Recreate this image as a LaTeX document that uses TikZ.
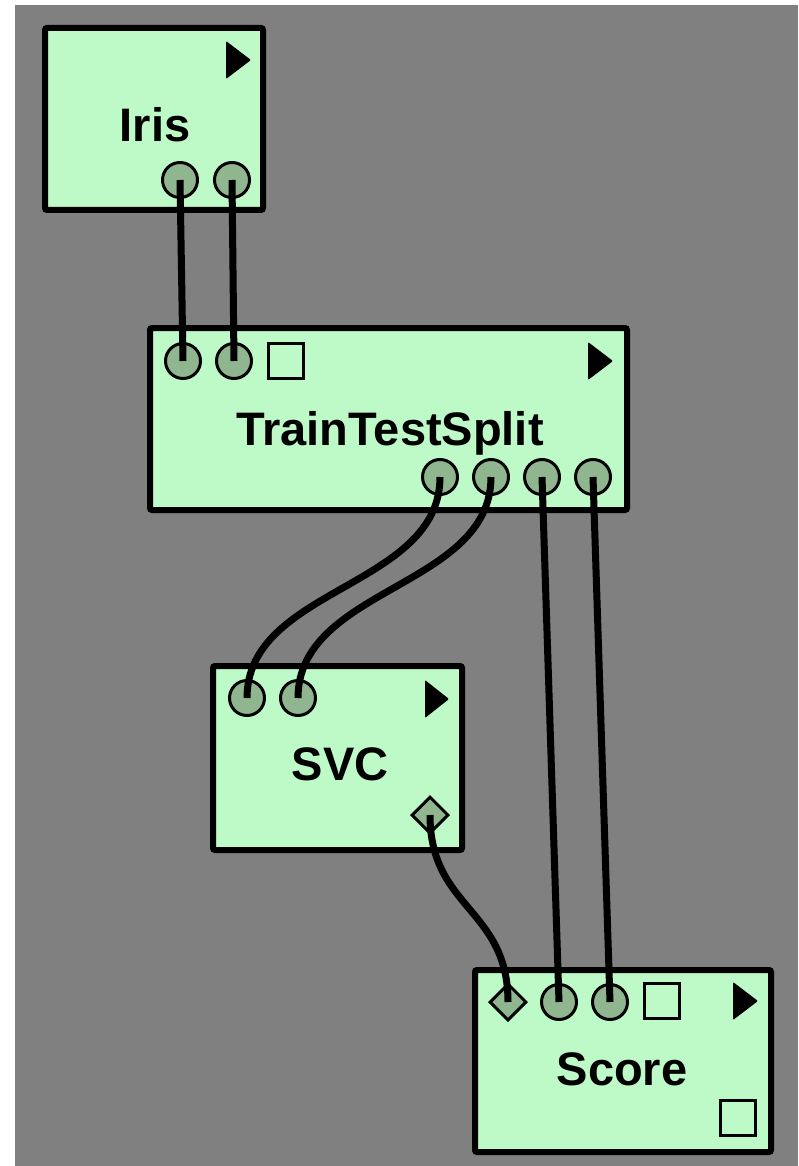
\documentclass[tikz,border=0pt]{standalone}
\usepackage{fontspec}
\setmainfont{Liberation Sans}
\usetikzlibrary{shapes.geometric}
\definecolor{canvasgray}{RGB}{128,128,128}
\definecolor{widgetgreen}{RGB}{190,250,200}
\definecolor{portgreen}{RGB}{143,182,143}
\begin{document}
\begin{tikzpicture}[x=1pt,y=-1pt,
  widget/.style={draw,line width=6pt,fill=widgetgreen,rounded corners=2pt,inner sep=0pt},
  title/.style={anchor=base,font=\bfseries\fontsize{47}{50}\selectfont,inner sep=0pt},
  port/.style={circle,draw,line width=3pt,fill=portgreen,minimum size=35pt,inner sep=0pt},
  dport/.style={diamond,draw,line width=3pt,fill=portgreen,minimum size=37pt,inner sep=0pt},
  slot/.style={draw,line width=3pt,fill=widgetgreen,minimum size=35pt,inner sep=0pt},
  link/.style={line width=7pt}]
\useasboundingbox (0,0) rectangle (798,1166);
\fill[white] (0,0) rectangle (798,1166);
\fill[canvasgray] (15,5) rectangle (798,1166);
% widgets
\node[widget,minimum width=218pt,minimum height=182pt] (iris) at (154,119) {};
\node[widget,minimum width=477pt,minimum height=182pt] (tts) at (388.5,419) {};
\node[widget,minimum width=249pt,minimum height=184pt] (svc) at (337.5,758) {};
\node[widget,minimum width=296pt,minimum height=182pt] (score) at (623,1061) {};
\node[title] (irislbl) at (155,142) {Iris};
\node[title] (ttslbl) at (390,445) {TrainTestSplit};
\node[title] (svclbl) at (340,780) {SVC};
\node[title] (scorelbl) at (622,1085) {Score};
% run buttons
\fill[rounded corners=1pt] (226,41) -- (251,60) -- (226,79) -- cycle;
\fill[rounded corners=1pt] (588,342) -- (613,361) -- (588,380) -- cycle;
\fill[rounded corners=1pt] (425,680) -- (449,699) -- (425,718) -- cycle;
\fill[rounded corners=1pt] (733,982) -- (758,1001) -- (733,1020) -- cycle;
% ports
\node[port] (irisout1) at (180,180) {};
\node[port] (irisout2) at (232,180) {};
\node[port] (ttsin1) at (183,361) {};
\node[port] (ttsin2) at (234,361) {};
\node[slot] (ttsopt) at (286,361) {};
\node[port] (ttsout1) at (440,477) {};
\node[port] (ttsout2) at (491,477) {};
\node[port] (ttsout3) at (542,477) {};
\node[port] (ttsout4) at (593,477) {};
\node[port] (svcin1) at (247,698) {};
\node[port] (svcin2) at (298,698) {};
\node[dport] (svcout) at (430,815) {};
\node[dport] (scorein1) at (508,1002) {};
\node[port] (scorein2) at (559,1002) {};
\node[port] (scorein3) at (610,1002) {};
\node[slot] (scoreopt) at (662,1001) {};
\node[slot] (scoreout) at (738,1118) {};
% links
\draw[link] (irisout1.center) -- (ttsin1.center);
\draw[link] (irisout2.center) -- (ttsin2.center);
\draw[link] (ttsout1.center) .. controls +(0,111) and +(0,-111) .. (svcin1.center);
\draw[link] (ttsout2.center) .. controls +(0,111) and +(0,-111) .. (svcin2.center);
\draw[link] (ttsout3.center) -- (scorein2.center);
\draw[link] (ttsout4.center) -- (scorein3.center);
\draw[link] (svcout.center) .. controls +(0,94) and +(0,-94) .. (scorein1.center);
\end{tikzpicture}
\end{document}
